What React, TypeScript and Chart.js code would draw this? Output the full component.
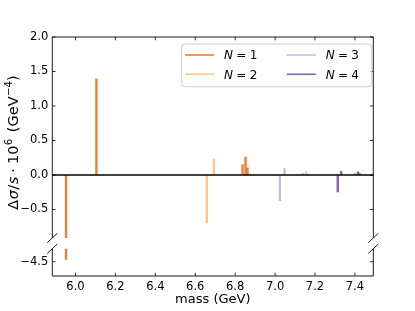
import React, { useEffect, useRef } from 'react';
import { Chart, registerables } from 'chart.js';

Chart.register(...registerables);

// ---------- data ----------
const xMin = 5.884;
const xMax = 7.492;
const xTicks = [6.0, 6.2, 6.4, 6.6, 6.8, 7.0, 7.2, 7.4];
const yTopMin = -0.913;
const yTopMax = 2.0;
const yTopTicks = [-0.5, 0.0, 0.5, 1.0, 1.5, 2.0];
const yBottomMin = -4.707;
const yBottomMax = -4.31;
const yBottomTicks = [-4.5];

const seriesLabels = ['1', '2', '3', '4'];
const n1Mass = [5.953, 6.105, 6.837, 6.852, 6.862];
const n1Value = [-4.47, 1.4, 0.155, 0.265, 0.11];
const n2Mass = [6.658, 6.693, 7.139, 7.154];
const n2Value = [-0.7, 0.236, 0.03, 0.055];
const n3Mass = [7.024, 7.047, 7.163, 7.398, 7.426];
const n3Value = [-0.377, 0.097, 0.02, 0.03, 0.02];
const n4Mass = [7.314, 7.331, 7.415, 7.422];
const n4Value = [-0.25, 0.058, 0.05, 0.03];
const seriesColors = [
  'rgba(230,97,1,0.8)',
  'rgba(253,184,99,0.8)',
  'rgba(178,171,210,0.8)',
  'rgba(94,60,153,0.8)',
];

const yTitleText = ['Δ', 'σ', '/', 's', '·', '10', '6', '(GeV', '−4', ')'];
const xTitleText = 'mass (GeV)';

// ---------- layout ----------
const W = 415;
const H = 311;
const AX_LEFT = 52.3;
const AX_RIGHT = 373.3;
const TOP_PANEL_TOP = 37;
const TOP_PANEL_BOTTOM = 238;
const BOT_PANEL_TOP = 248.7;
const BOT_PANEL_BOTTOM = 276;
const FONT = '"DejaVu Sans", sans-serif';
const TICK_LEN = 3.3;

const fmt = (v: number) => v.toFixed(1).replace('-', '\u2212');

function makeDatasets() {
  const masses = [n1Mass, n2Mass, n3Mass, n4Mass];
  const values = [n1Value, n2Value, n3Value, n4Value];
  return masses.map((m, s) => ({
    label: 'N = ' + seriesLabels[s],
    data: m.map((x, i) => ({ x, y: values[s][i] })),
    backgroundColor: seriesColors[s],
    borderWidth: 0,
    barThickness: 2.4,
    grouped: false,
    inflateAmount: 0,
    clip: 0,
  }));
}

function line(ctx: CanvasRenderingContext2D, x1: number, y1: number, x2: number, y2: number) {
  ctx.beginPath();
  ctx.moveTo(x1, y1);
  ctx.lineTo(x2, y2);
  ctx.stroke();
}

function drawYTitle(ctx: CanvasRenderingContext2D) {
  const base = 14.5;
  const sup = 10.2;
  const F = (sz: number, it = false) => `${it ? 'italic ' : ''}${sz}px ${FONT}`;
  const pieces = [
    { t: yTitleText[0], f: F(base), dy: 0, pl: 0, pr: 0.5 },
    { t: yTitleText[1], f: F(base, true), dy: 0, pl: 0, pr: 0.5 },
    { t: yTitleText[2], f: F(base), dy: 0, pl: 0, pr: 0.5 },
    { t: yTitleText[3], f: F(base, true), dy: 0, pl: 0, pr: 0 },
    { t: yTitleText[4], f: F(base), dy: 0, pl: 4, pr: 4 },
    { t: yTitleText[5], f: F(base), dy: 0, pl: 0, pr: 0 },
    { t: yTitleText[6], f: F(sup), dy: -6.2, pl: 0.5, pr: 0 },
    { t: yTitleText[7], f: F(base), dy: 0, pl: 6.5, pr: 0 },
    { t: yTitleText[8], f: F(sup), dy: -6.2, pl: 0.5, pr: 0 },
    { t: yTitleText[9], f: F(base), dy: 0, pl: 0, pr: 0 },
  ];
  let total = 0;
  const widths = pieces.map((p) => {
    ctx.font = p.f;
    const w = ctx.measureText(p.t).width + p.pl + p.pr;
    total += w;
    return w;
  });
  ctx.save();
  ctx.translate(18.3, 142.5);
  ctx.rotate(-Math.PI / 2);
  ctx.fillStyle = '#000';
  ctx.textBaseline = 'alphabetic';
  ctx.textAlign = 'left';
  let x = -total / 2;
  pieces.forEach((p, i) => {
    ctx.font = p.f;
    ctx.fillText(p.t, x + p.pl, p.dy);
    x += widths[i];
  });
  ctx.restore();
}

function drawLegend(ctx: CanvasRenderingContext2D) {
  const bx = 181.7, by = 44, bw = 190, bh = 42.7;
  ctx.save();
  ctx.beginPath();
  (ctx as any).roundRect(bx, by, bw, bh, 3);
  ctx.fillStyle = 'rgba(255,255,255,0.8)';
  ctx.fill();
  ctx.strokeStyle = '#cccccc';
  ctx.lineWidth = 1;
  ctx.stroke();
  const cols = [185, 286.7];
  const rows = [55, 74.3];
  const order = [[0, 0], [0, 1], [1, 0], [1, 1]]; // [col,row] for N=1..4
  order.forEach(([c, r], s) => {
    const lx = cols[c];
    const ly = rows[r];
    ctx.strokeStyle = seriesColors[s];
    ctx.lineWidth = 1.6;
    line(ctx, lx, ly, lx + 29, ly);
    ctx.fillStyle = '#000';
    ctx.textBaseline = 'alphabetic';
    let tx = lx + 39;
    const baseY = ly + 4.4;
    ctx.font = `italic 12px ${FONT}`;
    ctx.fillText('N', tx, baseY);
    tx += ctx.measureText('N').width + 3.3;
    ctx.font = `12px ${FONT}`;
    ctx.fillText('=', tx, baseY);
    tx += ctx.measureText('=').width + 3.3;
    ctx.fillText(seriesLabels[s], tx, baseY);
  });
  ctx.restore();
}

function decoPlugin(panel: 'top' | 'bottom') {
  return {
    id: 'deco' + panel,
    afterDatasetsDraw(chart: any) {
      const ctx: CanvasRenderingContext2D = chart.ctx;
      const { left, right, top, bottom } = chart.chartArea;
      const xs = chart.scales.x;
      const ys = chart.scales.y;
      ctx.save();
      if (panel === 'top') {
        const y0 = ys.getPixelForValue(0);
        ctx.strokeStyle = '#000';
        ctx.lineWidth = 1.7;
        line(ctx, left, y0, right, y0);
      }
      ctx.strokeStyle = '#000';
      ctx.lineWidth = 0.9;
      // spines
      line(ctx, left, top, left, bottom);
      line(ctx, right, top, right, bottom);
      if (panel === 'top') line(ctx, left, top, right, top);
      else line(ctx, left, bottom, right, bottom);
      // ticks
      ctx.lineWidth = 0.8;
      const yt = panel === 'top' ? yTopTicks : yBottomTicks;
      yt.forEach((v) => {
        const p = ys.getPixelForValue(v);
        line(ctx, left, p, left + TICK_LEN, p);
        line(ctx, right, p, right - TICK_LEN, p);
      });
      xTicks.forEach((v) => {
        const p = xs.getPixelForValue(v);
        if (panel === 'top') line(ctx, p, top, p, top + TICK_LEN);
        else line(ctx, p, bottom, p, bottom - TICK_LEN);
      });
      // break marks
      ctx.lineWidth = 0.9;
      const yb = panel === 'top' ? bottom : top;
      [left, right].forEach((xx) => line(ctx, xx - 5, yb + 4.7, xx + 5, yb - 4.7));
      if (panel === 'top') {
        drawLegend(ctx);
        drawYTitle(ctx);
      }
      ctx.restore();
    },
  };
}

function baseOptions(panel: 'top' | 'bottom'): any {
  const isTop = panel === 'top';
  return {
    responsive: false,
    animation: false,
    devicePixelRatio: 1,
    events: [],
    layout: {
      autoPadding: false,
      padding: {
        left: 0,
        right: W - AX_RIGHT,
        top: isTop ? TOP_PANEL_TOP : BOT_PANEL_TOP,
        bottom: isTop ? H - TOP_PANEL_BOTTOM : 0,
      },
    },
    plugins: { legend: { display: false }, tooltip: { enabled: false } },
    scales: {
      x: {
        type: 'linear',
        position: 'bottom',
        min: xMin,
        max: xMax,
        offset: false,
        display: !isTop,
        afterBuildTicks: (s: any) => {
          s.ticks = xTicks.map((v) => ({ value: v }));
        },
        afterFit: (s: any) => {
          s.height = isTop ? 0 : H - BOT_PANEL_BOTTOM;
        },
        grid: { display: false, drawTicks: false },
        border: { display: false },
        ticks: {
          autoSkip: false,
          maxRotation: 0,
          minRotation: 0,
          padding: 4,
          color: '#000',
          font: { family: FONT, size: 11.5 },
          callback: (v: number) => fmt(v),
        },
        title: {
          display: true,
          text: xTitleText,
          color: '#000',
          font: { family: FONT, size: 13 },
          padding: { top: 0, bottom: 4 },
        },
      },
      y: {
        type: 'linear',
        position: 'left',
        min: isTop ? yTopMin : yBottomMin,
        max: isTop ? yTopMax : yBottomMax,
        afterBuildTicks: (s: any) => {
          s.ticks = (isTop ? yTopTicks : yBottomTicks).map((v) => ({ value: v }));
        },
        afterFit: (s: any) => {
          s.width = AX_LEFT;
        },
        grid: { display: false, drawTicks: false },
        border: { display: false },
        ticks: {
          padding: 4,
          color: '#000',
          font: { family: FONT, size: 11.5 },
          callback: (v: number) => fmt(v),
        },
      },
    },
  };
}

export default function App() {
  const topRef = useRef<HTMLCanvasElement>(null);
  const botRef = useRef<HTMLCanvasElement>(null);

  useEffect(() => {
    const top = new Chart(topRef.current as HTMLCanvasElement, {
      type: 'bar',
      data: { datasets: makeDatasets() as any },
      options: baseOptions('top'),
      plugins: [decoPlugin('top')],
    });
    const bot = new Chart(botRef.current as HTMLCanvasElement, {
      type: 'bar',
      data: { datasets: makeDatasets() as any },
      options: baseOptions('bottom'),
      plugins: [decoPlugin('bottom')],
    });
    return () => {
      top.destroy();
      bot.destroy();
    };
  }, []);

  const cs: React.CSSProperties = { position: 'absolute', left: 0, top: 0, width: W, height: H };
  return (
    <div style={{ position: 'fixed', left: 0, top: 0, width: W, height: H, background: '#fff' }}>
      <canvas ref={botRef} width={W} height={H} style={cs} />
      <canvas ref={topRef} width={W} height={H} style={cs} />
    </div>
  );
}
